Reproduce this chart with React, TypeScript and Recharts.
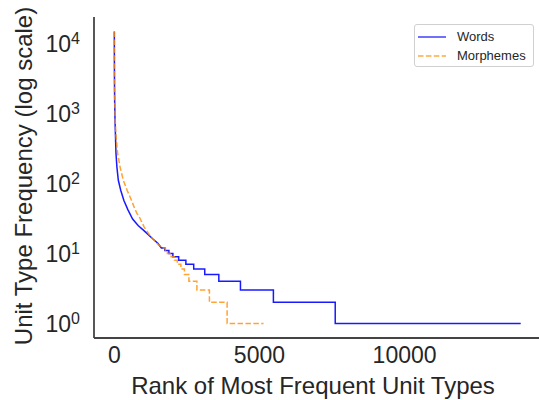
import React from 'react';
import { LineChart, Line, XAxis, YAxis, Legend } from 'recharts';

// Words: smooth head of the rank/frequency curve, then integer frequency steps
const wordCurveRanks = [1, 2, 3, 5, 8, 12, 24, 57, 90, 138, 220, 330, 470, 630, 820, 1030, 1320, 1500];
const wordCurveFreqs = [14800, 8200, 5600, 3500, 2200, 1500, 805, 270, 170, 111, 80, 57, 42, 31, 25, 21, 16.2, 14];
const wordStepFreqs = [12, 11, 10, 9, 8, 7, 6, 5, 4, 3, 2, 1];
const wordStepStarts = [1620, 1740, 1880, 2017, 2217, 2465, 2735, 3115, 3600, 4345, 5480, 7610];
const wordMaxRank = 14000;

// Morphemes
const morphCurveRanks = [1, 2, 3, 5, 8, 12, 30, 60, 114, 200, 310, 440, 590, 700, 783, 860, 1030, 1260, 1500];
const morphCurveFreqs = [14800, 8000, 5600, 3600, 2400, 1700, 805, 470, 270, 170, 111, 80, 57.7, 44, 37, 33.3, 23.8, 17.1, 13.6];
const morphStepFreqs = [12, 11, 10, 9, 8, 7, 6, 5, 4, 3, 2, 1];
const morphStepStarts = [1672, 1760, 1828, 1955, 2069, 2172, 2293, 2414, 2570, 2845, 3276, 3886];
const morphMaxRank = 5140;

const xTicks = [0, 5000, 10000];
const yTicks = [1, 10, 100, 1000, 10000];

const FONT = '"Liberation Sans", Arial, sans-serif';
const TEXT = '#262626';

const buildSeries = (
  curveRanks: number[],
  curveFreqs: number[],
  stepFreqs: number[],
  stepStarts: number[],
  maxRank: number
) => {
  const pts = curveRanks.map((r, i) => ({ rank: r, freq: curveFreqs[i] }));
  stepFreqs.forEach((f, i) => {
    const end = i + 1 < stepStarts.length ? stepStarts[i + 1] : maxRank;
    pts.push({ rank: stepStarts[i], freq: f });
    pts.push({ rank: end, freq: f });
  });
  return pts;
};

const wordsData = buildSeries(wordCurveRanks, wordCurveFreqs, wordStepFreqs, wordStepStarts, wordMaxRank);
const morphData = buildSeries(morphCurveRanks, morphCurveFreqs, morphStepFreqs, morphStepStarts, morphMaxRank);

const LogTick = ({ x, y, payload }: any) => {
  const exp = Math.round(Math.log10(payload.value));
  return (
    <text x={x} y={y} textAnchor="end" fill={TEXT} fontFamily={FONT}>
      <tspan fontSize={23} dy={8.6}>10</tspan>
      <tspan fontSize={16} dy={-8.4}>{exp}</tspan>
    </text>
  );
};

const LegendBox = () => (
  <div
    style={{
      width: 118,
      height: 41,
      border: '1px solid #d0d0d0',
      borderRadius: 3,
      background: '#fff',
      fontFamily: FONT,
      fontSize: 13,
      color: TEXT,
      boxSizing: 'content-box',
    }}
  >
    {[
      { label: 'Words', color: '#0000ff', dash: undefined },
      { label: 'Morphemes', color: '#ff8c00', dash: '5.5 2.4' },
    ].map((item, i) => (
      <div key={item.label} style={{ position: 'absolute', left: 4, top: 3 + i * 19, height: 19, display: 'flex', alignItems: 'center' }}>
        <svg width={28} height={6} style={{ display: 'block' }}>
          <line x1={0} y1={3} x2={28} y2={3} stroke={item.color} strokeOpacity={0.75} strokeWidth={1.5} strokeDasharray={item.dash} />
        </svg>
        <span style={{ marginLeft: 11, lineHeight: '19px' }}>{item.label}</span>
      </div>
    ))}
  </div>
);

export default function App() {
  return (
    <div style={{ position: 'absolute', left: 0, top: 0, background: '#fff' }}>
      <LineChart width={539} height={400} margin={{ top: 17, right: 0, bottom: 0, left: 0 }}>
        <XAxis
          type="number"
          dataKey="rank"
          domain={[-700, 14630]}
          ticks={xTicks}
          allowDataOverflow
          height={62}
          tickLine={false}
          tickSize={0}
          tickMargin={9}
          axisLine={{ stroke: '#444', strokeWidth: 1.8 }}
          tick={{ fontSize: 23, fill: TEXT, fontFamily: FONT }}
          label={(p: any) => (
            <text x={313} y={394} textAnchor="middle" fontSize={24} fill={TEXT} fontFamily={FONT}>
              Rank of Most Frequent Unit Types
            </text>
          )}
        />
        <YAxis
          type="number"
          dataKey="freq"
          scale="log"
          domain={[0.619, 23900]}
          allowDataOverflow
          ticks={yTicks}
          width={94}
          tickLine={false}
          tickSize={0}
          tickMargin={14}
          axisLine={{ stroke: '#444', strokeWidth: 1.8 }}
          tick={<LogTick />}
          label={(p: any) => (
            <text
              x={31.5}
              y={176}
              transform="rotate(-90 31.5 176)"
              textAnchor="middle"
              fontSize={24}
              fill={TEXT}
              fontFamily={FONT}
            >
              Unit Type Frequency (log scale)
            </text>
          )}
        />
        <Legend
          layout="vertical"
          align="center"
          verticalAlign="middle"
          wrapperStyle={{ top: 24, left: 414, width: 120, height: 43, position: 'absolute' }}
          content={() => <LegendBox />}
        />
        <Line
          data={wordsData}
          dataKey="freq"
          name="Words"
          type="linear"
          stroke="#0000ff"
          strokeOpacity={0.9}
          strokeWidth={1.5}
          dot={false}
          isAnimationActive={false}
        />
        <Line
          data={morphData}
          dataKey="freq"
          name="Morphemes"
          type="linear"
          stroke="#ff8c00"
          strokeOpacity={0.8}
          strokeWidth={1.5}
          strokeDasharray="5.5 2.4"
          dot={false}
          isAnimationActive={false}
        />
      </LineChart>
    </div>
  );
}
